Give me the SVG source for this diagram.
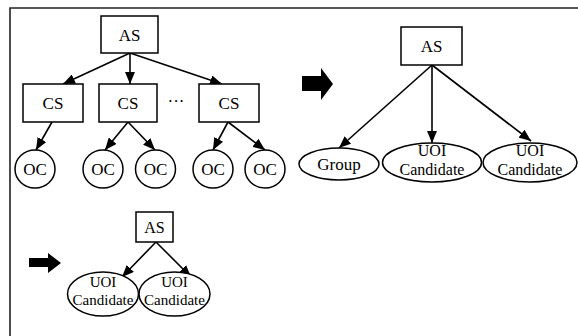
<svg xmlns="http://www.w3.org/2000/svg" width="578" height="336" viewBox="0 0 578 336">
  <defs>
    <marker id="arrow" markerUnits="userSpaceOnUse" markerWidth="12" markerHeight="10" refX="12" refY="5" orient="auto">
      <path d="M0,0 L12,5 L0,10 z" fill="#000"/>
    </marker>
    <style>
      .box { fill: #fff; stroke: #000; stroke-width: 1.5; }
      .node { fill: #fff; stroke: #000; stroke-width: 1.5; }
      .edge { fill: none; stroke: #000; stroke-width: 1.6; marker-end: url(#arrow); }
      .frame { fill: none; stroke: #222; stroke-width: 1.6; }
      .lbl { font-family: "Liberation Serif", "Times New Roman", serif; font-size: 17px; fill: #000; text-anchor: middle; }
      .lbl2 { font-family: "Liberation Serif", "Times New Roman", serif; font-size: 16px; fill: #000; text-anchor: middle; }
      .lbl3 { font-family: "Liberation Serif", "Times New Roman", serif; font-size: 15px; fill: #000; text-anchor: middle; }
      .big { fill: #000; }
    </style>
  </defs>

  <rect width="578" height="336" fill="#fff"/>
  <!-- frame: top and left rules -->
  <path class="frame" d="M10,336 L10,8 L578,8"/>

  <!-- connectors -->
  <g id="connectors">
    <!-- tree 1 -->
    <line class="edge" x1="130" y1="53" x2="63" y2="84"/>
    <line class="edge" x1="130" y1="53" x2="130" y2="84"/>
    <line class="edge" x1="130" y1="53" x2="222" y2="84"/>
    <line class="edge" x1="52" y1="122" x2="36" y2="150"/>
    <line class="edge" x1="128" y1="122" x2="105" y2="150"/>
    <line class="edge" x1="128" y1="122" x2="155" y2="150"/>
    <line class="edge" x1="228" y1="122" x2="213" y2="150"/>
    <line class="edge" x1="228" y1="122" x2="265" y2="150"/>
    <!-- tree 2 -->
    <line class="edge" x1="432" y1="65" x2="339" y2="148"/>
    <line class="edge" x1="432" y1="65" x2="432" y2="143"/>
    <line class="edge" x1="432" y1="65" x2="531" y2="141"/>
    <!-- tree 3 -->
    <line class="edge" x1="156" y1="242" x2="122" y2="277"/>
    <line class="edge" x1="156" y1="242" x2="191" y2="277"/>
  </g>

  <!-- block arrows -->
  <path class="big" d="M302,76 L321,76 L321,68 L333,84 L321,100 L321,91 L302,91 z"/>
  <path class="big" d="M29,258 L48,258 L48,253 L61,263 L48,273 L48,267 L29,267 z"/>

  <!-- tree 1 nodes -->
  <g id="as1"><rect class="box" x="101" y="16" width="57" height="37"/><text class="lbl" x="129.5" y="40.5">AS</text></g>
  <g id="cs1"><rect class="box" x="23" y="84" width="60" height="38"/><text class="lbl" x="53" y="109">CS</text></g>
  <g id="cs2"><rect class="box" x="99" y="84" width="58" height="38"/><text class="lbl" x="128" y="109">CS</text></g>
  <text class="lbl" x="176" y="107">···</text>
  <g id="cs3"><rect class="box" x="199" y="84" width="60" height="38"/><text class="lbl" x="229" y="109">CS</text></g>
  <g id="oc1"><ellipse class="node" cx="35" cy="169" rx="20" ry="19"/><text class="lbl" x="35" y="175">OC</text></g>
  <g id="oc2"><ellipse class="node" cx="103" cy="169" rx="20" ry="19"/><text class="lbl" x="103" y="175">OC</text></g>
  <g id="oc3"><ellipse class="node" cx="155.5" cy="169" rx="20" ry="19"/><text class="lbl" x="155.5" y="175">OC</text></g>
  <g id="oc4"><ellipse class="node" cx="213" cy="169" rx="20" ry="19"/><text class="lbl" x="213" y="175">OC</text></g>
  <g id="oc5"><ellipse class="node" cx="265" cy="169" rx="20" ry="19"/><text class="lbl" x="265" y="175">OC</text></g>

  <!-- tree 2 nodes -->
  <g id="as2"><rect class="box" x="401" y="27" width="61" height="38"/><text class="lbl" x="431.5" y="52">AS</text></g>
  <g id="group"><ellipse class="node" cx="339" cy="164" rx="40" ry="16"/><text class="lbl" x="339" y="170">Group</text></g>
  <g id="uoi1"><ellipse class="node" cx="432" cy="162.5" rx="49.5" ry="19.5"/><text class="lbl2" x="432" y="156">UOI</text><text class="lbl2" x="432" y="175">Candidate</text></g>
  <g id="uoi2"><ellipse class="node" cx="530" cy="162.5" rx="47" ry="19.5"/><text class="lbl2" x="530" y="156">UOI</text><text class="lbl2" x="530" y="175">Candidate</text></g>

  <!-- tree 3 nodes -->
  <g id="as3"><rect class="box" x="136" y="212" width="37" height="30"/><text class="lbl2" x="154.5" y="233">AS</text></g>
  <g id="uoi3"><ellipse class="node" cx="103" cy="294" rx="35.5" ry="22"/><text class="lbl3" x="103" y="287">UOI</text><text class="lbl3" x="103" y="305">Candidate</text></g>
  <g id="uoi4"><ellipse class="node" cx="174.5" cy="294" rx="35.5" ry="22"/><text class="lbl3" x="174.5" y="287">UOI</text><text class="lbl3" x="174.5" y="305">Candidate</text></g>
</svg>
